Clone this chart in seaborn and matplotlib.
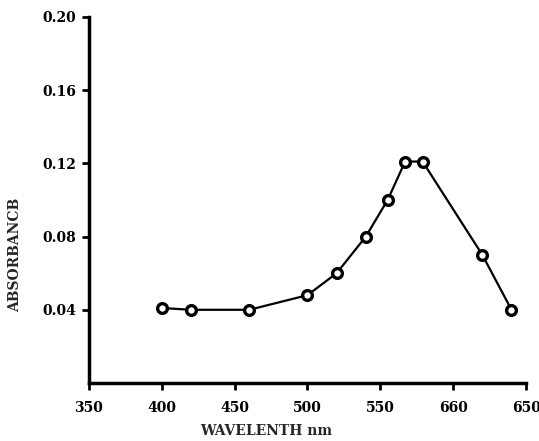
import matplotlib
matplotlib.use("Agg")
import matplotlib.pyplot as plt
import seaborn as sns
import pandas as pd

wavelength = [400, 420, 460, 500, 520, 540, 555, 567, 579, 620, 640]
absorbance = [0.041, 0.040, 0.040, 0.048, 0.060, 0.080, 0.100, 0.121, 0.121, 0.070, 0.040]
x_ticks = [350, 400, 450, 500, 550, 600, 650]
x_tick_labels = ["350", "400", "450", "500", "550", "660", "650"]
y_ticks = [0.04, 0.08, 0.12, 0.16, 0.20]
y_tick_labels = ["0.04", "0.08", "0.12", "0.16", "0.20"]

sns.set_style("ticks")
plt.rcParams["font.family"] = ["DejaVu Serif"]

df = pd.DataFrame({"wavelength": wavelength, "absorbance": absorbance})

fig = plt.figure(figsize=(5.39, 4.41), dpi=100)
ax = fig.add_axes([0.165, 0.1315, 0.811, 0.83])

sns.lineplot(data=df, x="wavelength", y="absorbance", ax=ax, color="black",
             linewidth=1.6, marker="o", markersize=7, markerfacecolor="white",
             markeredgecolor="black", markeredgewidth=2.4)

ax.set_xlim(350, 650)
ax.set_ylim(0, 0.20)
ax.set_xticks(x_ticks)
ax.set_xticklabels(x_tick_labels)
ax.set_yticks(y_ticks)
ax.set_yticklabels(y_tick_labels)

for lab in ax.get_xticklabels() + ax.get_yticklabels():
    lab.set_fontweight("bold")
    lab.set_fontsize(10)
    lab.set_color("black")

ax.tick_params(axis="both", direction="out", length=5, width=2, color="black")
ax.tick_params(axis="x", pad=8)
ax.tick_params(axis="y", pad=4)

for s in ["top", "right"]:
    ax.spines[s].set_visible(False)
for s in ["left", "bottom"]:
    ax.spines[s].set_linewidth(2.5)
    ax.spines[s].set_color("black")

ax.set_xlabel("WAVELENTH nm", fontsize=10, fontweight="bold")
ax.set_ylabel("ABSORBANCB", fontsize=10, fontweight="bold")
ax.xaxis.set_label_coords(0.405, -0.112)
ax.yaxis.set_label_coords(-0.152, 0.35)

fig.savefig("out.png", dpi=100, facecolor="white")
